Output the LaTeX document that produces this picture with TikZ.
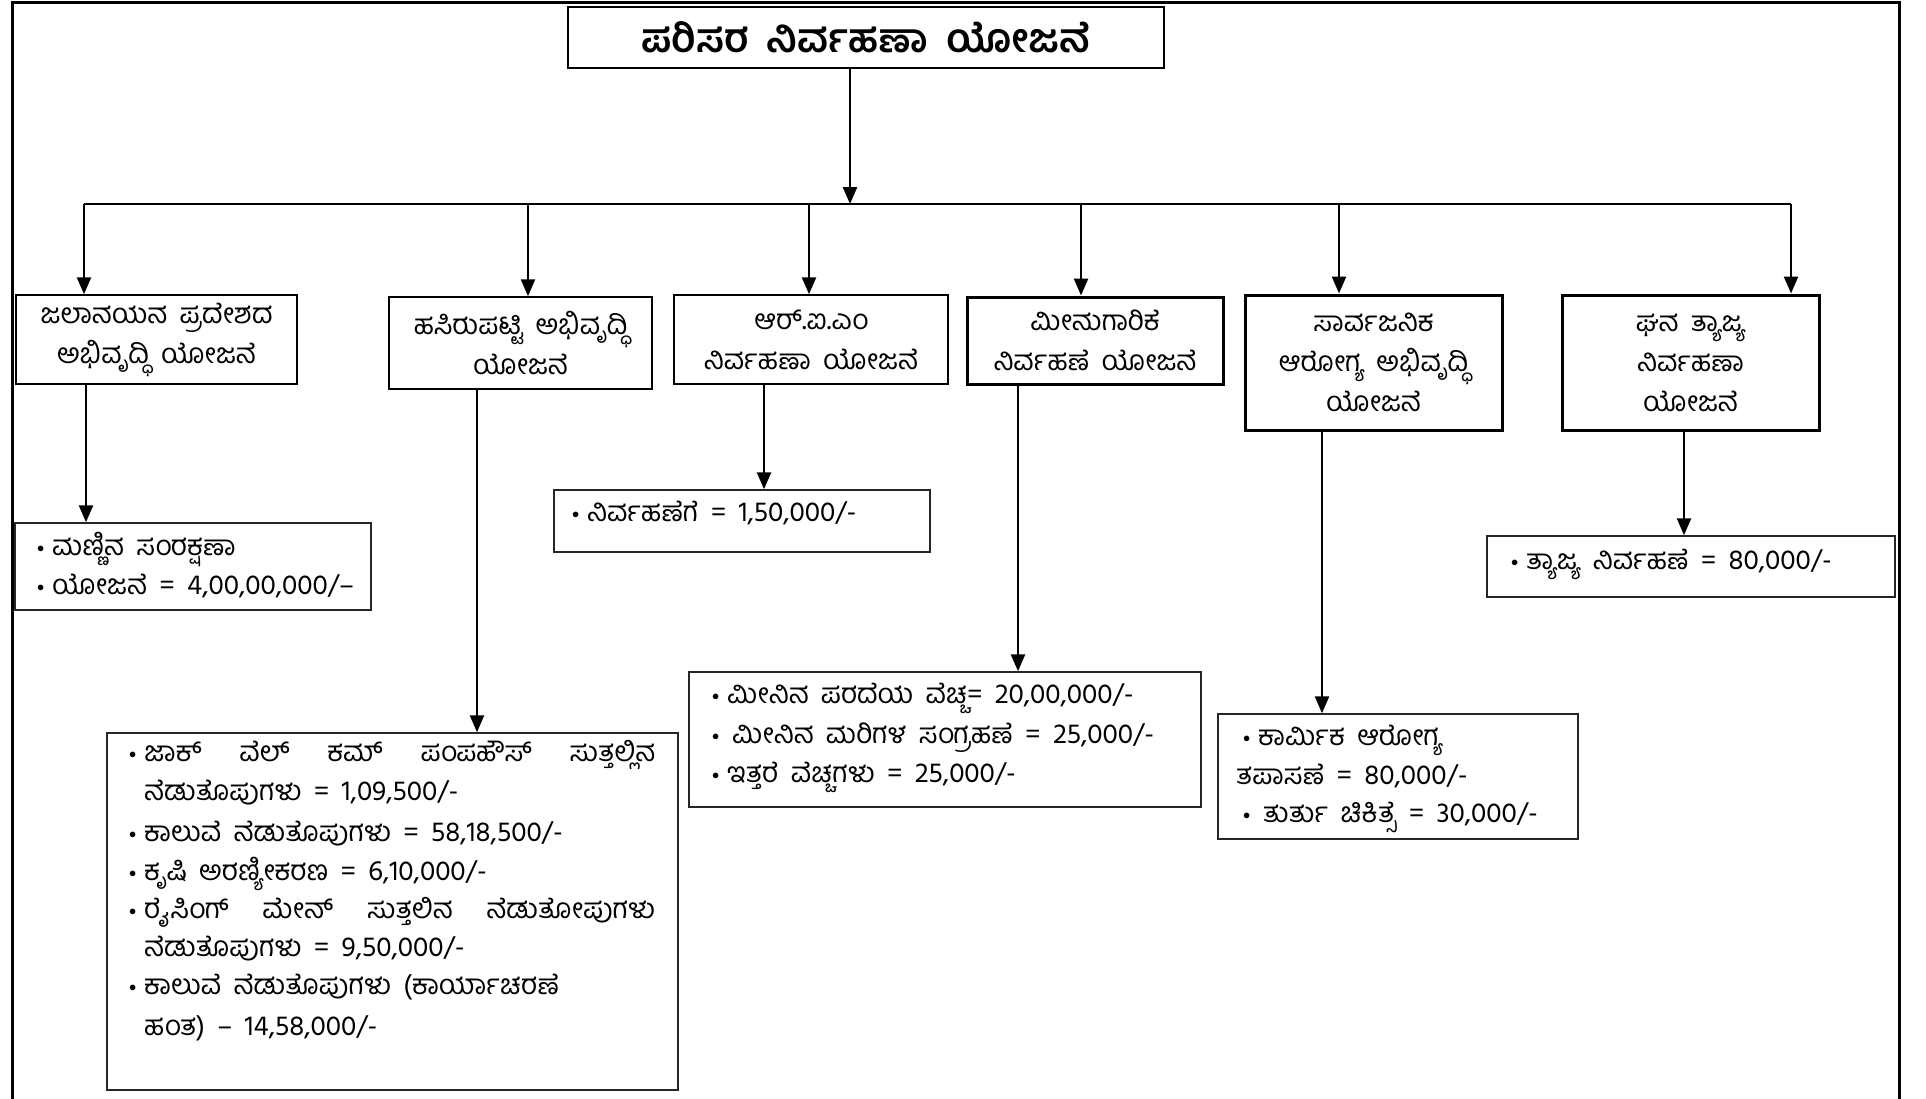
\documentclass[tikz,border=0pt]{standalone}
\usepackage{fontspec}
\setmainfont[Script=Kannada,WordSpace=1.8]{Hind Mysuru}
\usetikzlibrary{arrows.meta}
\newcommand\headfont{\fontsize{28}{40}\selectfont}
\newcommand\detfont{\fontsize{28}{30}\selectfont}
\newcommand\bulmark{\makebox[15pt][l]{\raisebox{3pt}{\fontsize{14}{14}\selectfont$\bullet$}}}
\tikzset{
  hbox/.style={draw, line width=1.5pt, align=center, inner sep=0pt, font=\headfont},
  hboxb/.style={hbox, line width=3pt},
  dbox/.style={draw=black!85, line width=1.5pt, inner sep=0pt},
  ln/.style={anchor=base west, inner sep=0pt, font=\detfont},
  arr/.style={line width=2.5pt, -{Triangle[width=14pt,length=17pt]}},
  wire/.style={line width=2.5pt},
}
\begin{document}
\begin{tikzpicture}[x=1pt,y=-1pt]
\useasboundingbox (0,0) rectangle (1926,1098);
\fill[white] (0,0) rectangle (1926,1098);
% outer frame
\draw[line width=3pt] (12,1110) -- (12,2) -- (1899,2) -- (1899,1110);
% title
\node[draw, line width=2pt, minimum width=596, minimum height=61, inner sep=0pt,
      font=\fontsize{40}{44}\selectfont\bfseries] (title) at (866,37.5) {ಪರಿಸರ ನಿರ್ವಹಣಾ ಯೋಜನೆ};
% heading boxes
\node[hbox, minimum width=281, minimum height=89] (b1) at (156.5,339.5) {ಜಲಾನಯನ ಪ್ರದೇಶದ\\ಅಭಿವೃದ್ಧಿ ಯೋಜನೆ};
\node[hbox, minimum width=263, minimum height=92] (b2) at (520.5,343) {ಹಸಿರುಪಟ್ಟಿ ಅಭಿವೃದ್ಧಿ\\ಯೋಜನೆ};
\node[hbox, minimum width=274, minimum height=89] (b3) at (811,339.5) {ಆರ್.ಐ.ಎಂ\\ನಿರ್ವಹಣಾ ಯೋಜನೆ};
\node[hboxb, minimum width=256, minimum height=87] (b4) at (1095,340.5) {ಮೀನುಗಾರಿಕೆ\\ನಿರ್ವಹಣೆ ಯೋಜನೆ};
\node[hboxb, minimum width=257, minimum height=135] (b5) at (1373.5,362.5) {ಸಾರ್ವಜನಿಕ\\ಆರೋಗ್ಯ ಅಭಿವೃದ್ಧಿ\\ಯೋಜನೆ};
\node[hboxb, minimum width=257, minimum height=135] (b6) at (1690.5,362.5) {ಘನ ತ್ಯಾಜ್ಯ\\ನಿರ್ವಹಣಾ\\ಯೋಜನೆ};
% detail boxes
\node[dbox, minimum width=356, minimum height=87] (d1) at (193,566.5) {};
\node[dbox, minimum width=571, minimum height=357] (d2) at (392.5,911.5) {};
\node[dbox, minimum width=376, minimum height=62] (d3) at (742,521) {};
\node[dbox, minimum width=512, minimum height=135] (d4) at (945,739.5) {};
\node[dbox, minimum width=360, minimum height=125] (d5) at (1398,776.5) {};
\node[dbox, minimum width=408, minimum height=61] (d6) at (1691,566.5) {};
% detail texts
\node[ln] (t11) at (37,555) {\bulmark ಮಣ್ಣಿನ ಸಂರಕ್ಷಣಾ};
\node[ln] (t12) at (37,594) {\bulmark ಯೋಜನೆ = 4,00,00,000/–};
\node[ln] (t21) at (129,761) {\bulmark\makebox[511pt][s]{ಜಾಕ್ ವೆಲ್ ಕಮ್ ಪಂಪಹೌಸ್ ಸುತ್ತಲ್ಲಿನ}};
\node[ln] (t22) at (144,800) {ನೆಡುತೊಪುಗಳು = 1,09,500/-};
\node[ln] (t23) at (129,841) {\bulmark ಕಾಲುವೆ ನೆಡುತೊಪುಗಳು = 58,18,500/-};
\node[ln] (t24) at (129,880) {\bulmark ಕೃಷಿ ಅರಣ್ಯೀಕರಣ = 6,10,000/-};
\node[ln] (t25) at (129,918) {\bulmark\makebox[511pt][s]{ರೈಸಿಂಗ್ ಮೇನ್ ಸುತ್ತಲಿನ ನೆಡುತೋಪುಗಳು}};
\node[ln] (t26) at (144,956) {ನೆಡುತೊಪುಗಳು = 9,50,000/-};
\node[ln] (t27) at (129,994) {\bulmark ಕಾಲುವೆ ನೆಡುತೊಪುಗಳು (ಕಾರ್ಯಾಚರಣೆ};
\node[ln] (t28) at (144,1035) {ಹಂತ) – 14,58,000/-};
\node[ln] (t31) at (572,521) {\bulmark ನಿರ್ವಹಣೆಗೆ = 1,50,000/-};
\node[ln] (t41) at (712,703) {\bulmark ಮೀನಿನ ಪರದೆಯ ವೆಚ್ಚ= 20,00,000/-};
\node[ln] (t42) at (712,743) {\bulmark\hspace{5pt}ಮೀನಿನ ಮರಿಗಳ ಸಂಗ್ರಹಣೆ = 25,000/-};
\node[ln] (t43) at (712,782) {\bulmark ಇತ್ತರೆ ವೆಚ್ಚಗಳು = 25,000/-};
\node[ln] (t51) at (1243,745) {\bulmark ಕಾರ್ಮಿಕ ಆರೋಗ್ಯ};
\node[ln] (t52) at (1236,784) {ತಪಾಸಣೆ = 80,000/-};
\node[ln] (t53) at (1243,822) {\bulmark\hspace{5pt}ತುರ್ತು ಚಿಕಿತ್ಸೆ = 30,000/-};
\node[ln] (t61) at (1511,569) {\bulmark ತ್ಯಾಜ್ಯ ನಿರ್ವಹಣೆ = 80,000/-};
% bus and drops
\coordinate (tj) at (850,204);
\coordinate (j1) at (84,204);
\coordinate (j2) at (528,204);
\coordinate (j3) at (809,204);
\coordinate (j4) at (1081,204);
\coordinate (j5) at (1339,204);
\coordinate (j6) at (1791,204);
\draw[arr] (title.south -| tj) -- (tj);
\draw[wire] (j1) -- (j6);
\foreach \i in {1,...,6} {\draw[arr] (j\i) -- (b\i.north -| j\i);}
% heading to details
\coordinate (k1) at (86,0);
\coordinate (k2) at (477,0);
\coordinate (k3) at (764,0);
\coordinate (k4) at (1018,0);
\coordinate (k5) at (1322,0);
\coordinate (k6) at (1684,0);
\foreach \i in {1,...,6} {\draw[arr] (b\i.south -| k\i) -- (d\i.north -| k\i);}
\end{tikzpicture}
\end{document}
